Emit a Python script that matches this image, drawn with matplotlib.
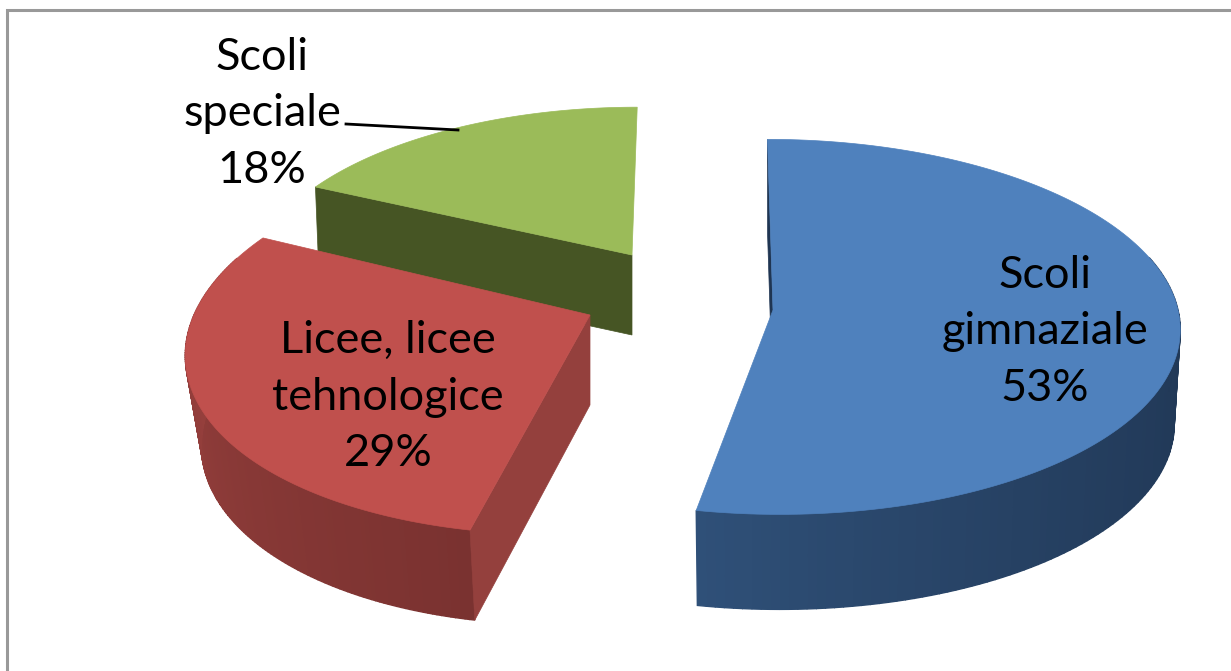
import matplotlib
matplotlib.use("Agg")
import matplotlib.pyplot as plt
import numpy as np
from matplotlib.colors import to_rgb
from matplotlib.patches import Polygon

plt.rcParams["font.family"] = ["Lato", "DejaVu Sans"]

# ------
# DATA
# ------
categories = ["Scoli\ngimnaziale", "Licee, licee\ntehnologice", "Scoli\nspeciale"]
shares = [53, 29, 18]

top_colors = ["#4F81BD", "#C0504D", "#9BBB59"]
wall_start = ["#1F3552", "#7A3230", "#465524"]
wall_end = ["#2F5078", "#A04441", "#465524"]
cut_colors = ["#1F3552", "#94403D", "#465524"]

# apex x, apex y, radius x, radius y, perspective, skew, depth, base shrink
geometry = [
    (773, 310, 405, 186, 0.09, -6, 95, 0.985),
    (590, 315, 396, 191, 0.13, 31, 90, 0.96),
    (632, 255, 375, 170, 0.15, 6, 80, 0.99),
]
label_pos = [(1045, 332), (388, 397), (262, 114)]
shade_power = [3, 1, 1]


def project(angle, geo):
    ax_, ay_, rx, ry, k, skew = geo[:6]
    u, v = np.sin(angle), np.cos(angle)
    s = 1 / (1 + k * v)
    return ax_ + (rx * u + skew * v) * s, ay_ - ry * v * s


def blend(c1, c2, f):
    c1, c2 = np.array(to_rgb(c1)), np.array(to_rgb(c2))
    return tuple(c1 + (c2 - c1) * f)


fig = plt.figure(figsize=(12.31, 6.71), dpi=100)
ax = fig.add_axes([0, 0, 1, 1])
ax.set_xlim(0, 1231)
ax.set_ylim(671, 0)
ax.axis("off")

# chart frame, open at the bottom and right like the screenshot
ax.plot([7, 7, 1231], [671, 10, 10], color="#999999", lw=2.2, solid_joinstyle="miter")

# -------
# SLICES
# -------
edges = np.cumsum([0] + shares) / sum(shares) * 2 * np.pi

for i in [2, 1, 0]:
    geo = geometry[i]
    t0, t1 = edges[i], edges[i + 1]
    depth, shrink = geo[6], geo[7]
    ts = np.linspace(t0, t1, 160)
    xs, ys = project(ts, geo)
    apex = (geo[0], geo[1])
    base_xs = apex[0] + (xs - apex[0]) * shrink
    base_ys = ys + depth

    # outer wall, shaded along the arc; the back of the arc is never seen
    for j in range(len(ts) - 1):
        if np.cos(ts[j]) > 0.3:
            continue
        col = blend(wall_start[i], wall_end[i], (j / (len(ts) - 2)) ** shade_power[i])
        ax.add_patch(Polygon(
            [(xs[j], ys[j]), (xs[j + 1], ys[j + 1]),
             (base_xs[j + 1], base_ys[j + 1]), (base_xs[j], base_ys[j])],
            closed=True, fc=col, ec=col, lw=1.0))

    # cut face at the start of the slice, the one that faces the viewer
    ax.add_patch(Polygon(
        [apex, (xs[0], ys[0]), (base_xs[0], base_ys[0]), (apex[0], apex[1] + depth)],
        closed=True, fc=cut_colors[i], ec=cut_colors[i], lw=0.5))

    # top surface
    ax.add_patch(Polygon(np.column_stack([np.r_[apex[0], xs], np.r_[apex[1], ys]]),
                         closed=True, fc=top_colors[i], ec=top_colors[i], lw=0.5))

# -------
# LABELS
# -------
for name, share, (lx, ly) in zip(categories, shares, label_pos):
    ax.text(lx, ly, f"{name}\n{share}%", ha="center", va="center",
            fontsize=32.5, color="black", linespacing=1.46)

# leader line for the green slice
ax.plot([346, 458], [124, 130], color="black", lw=2)

fig.savefig("out.png", dpi=100, facecolor="white")
